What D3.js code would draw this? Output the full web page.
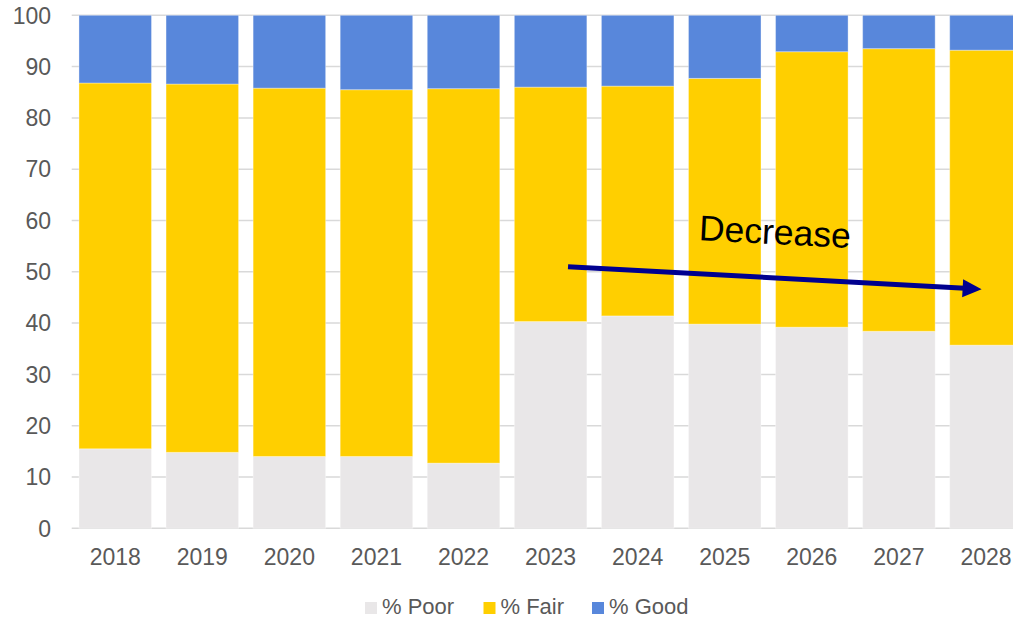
<!DOCTYPE html>
<html>
<head>
<meta charset="utf-8">
<script src="https://cdn.jsdelivr.net/npm/d3@7"></script>
<style>
  html, body { margin: 0; padding: 0; background: #fff; }
  svg { display: block; font-family: Arial, "Liberation Sans", sans-serif; }
</style>
</head>
<body>
<svg id="chart" width="1013" height="619"></svg>
<script>
const categories = ["2018","2019","2020","2021","2022","2023","2024","2025","2026","2027","2028"];
const poor = [15.5, 14.8, 14.0, 14.0, 12.7, 40.3, 41.4, 39.8, 39.2, 38.4, 35.7];
const fair = [71.3, 71.8, 71.8, 71.5, 73.0, 45.7, 44.8, 47.9, 53.7, 55.1, 57.5];
const good = [13.2, 13.4, 14.2, 14.5, 14.3, 14.0, 13.8, 12.3, 7.1, 6.5, 6.8];
const seriesNames = ["% Poor", "% Fair", "% Good"];
const seriesColors = ["#E9E7E8", "#FFCF00", "#5887DB"];
const yTicks = [0, 10, 20, 30, 40, 50, 60, 70, 80, 90, 100];
const annotationText = "Decrease";

const svg = d3.select("#chart");
const W = 1013, H = 619;

const x = d3.scaleBand()
  .domain(categories)
  .range([71.7, 1029.5])
  .paddingInner(0.167)
  .paddingOuter(0.0835);

const y = d3.scaleLinear().domain([0, 100]).range([528.3, 15.3]);

// gridlines
svg.append("g").selectAll("line").data(yTicks).join("line")
  .attr("x1", 71.7).attr("x2", W)
  .attr("y1", d => y(d)).attr("y2", d => y(d))
  .attr("stroke", "#d9d9d9").attr("stroke-width", 1.5);

// y labels
svg.append("g").selectAll("text").data(yTicks).join("text")
  .attr("x", 51).attr("y", d => y(d)).attr("dy", "0.36em")
  .attr("text-anchor", "end").attr("font-size", 23).attr("fill", "#595959")
  .text(d => d);

// stacked data
const rows = categories.map((c, i) => ({ cat: c, "% Poor": poor[i], "% Fair": fair[i], "% Good": good[i] }));
const stacked = d3.stack().keys(seriesNames)(rows);

svg.append("g").selectAll("g").data(stacked).join("g")
  .attr("fill", (d, i) => seriesColors[i])
  .selectAll("rect").data(d => d).join("rect")
  .attr("x", d => x(d.data.cat))
  .attr("width", x.bandwidth())
  .attr("y", d => y(d[1]))
  .attr("height", d => y(d[0]) - y(d[1]))
  .attr("stroke", "rgba(255,255,255,0.35)")
  .attr("stroke-width", 1);

// x labels
svg.append("g").selectAll("text").data(categories).join("text")
  .attr("x", d => x(d) + x.bandwidth() / 2).attr("y", 565)
  .attr("text-anchor", "middle").attr("font-size", 23).attr("fill", "#595959")
  .text(d => d);

// annotation arrow (in data coordinates)
const xAt = (idx) => x.range()[0] + x.step() * (x.paddingOuter() + idx) + x.bandwidth() / 2;
const arrowColor = "#00008f";

const ax1 = xAt(5.2), ay1 = y(51.0), ax2 = xAt(9.95), ay2 = y(46.6);
svg.append("line")
  .attr("x1", ax1).attr("y1", ay1)
  .attr("x2", ax2 - 12).attr("y2", ay2 - 12 * (ay2 - ay1) / (ax2 - ax1))
  .attr("stroke", arrowColor).attr("stroke-width", 5);
svg.append("path")
  .attr("d", () => {
    const ang = Math.atan2(ay2 - ay1, ax2 - ax1);
    const L = 19, Wd = 9;
    const bx = ax2 - L * Math.cos(ang), by = ay2 - L * Math.sin(ang);
    const px = -Math.sin(ang) * Wd, py = Math.cos(ang) * Wd;
    return `M${ax2},${ay2} L${bx + px},${by + py} L${bx - px},${by - py} Z`;
  })
  .attr("fill", arrowColor);

const tx = xAt(7.57), ty = y(55.4);
svg.append("text")
  .attr("x", tx).attr("y", ty)
  .attr("text-anchor", "middle").attr("font-size", 35.5).attr("fill", "#000")
  .attr("transform", `rotate(3, ${tx}, ${ty})`)
  .text(annotationText);

// legend
const legendX = [365, 483.5, 592];
const lg = svg.append("g").selectAll("g").data(seriesNames).join("g")
  .attr("transform", (d, i) => `translate(${legendX[i]}, 602)`);
lg.append("rect").attr("width", 12).attr("height", 12).attr("fill", (d, i) => seriesColors[i]);
lg.append("text").attr("x", 17).attr("y", 12).attr("font-size", 22).attr("fill", "#595959").text(d => d);
</script>
</body>
</html>
